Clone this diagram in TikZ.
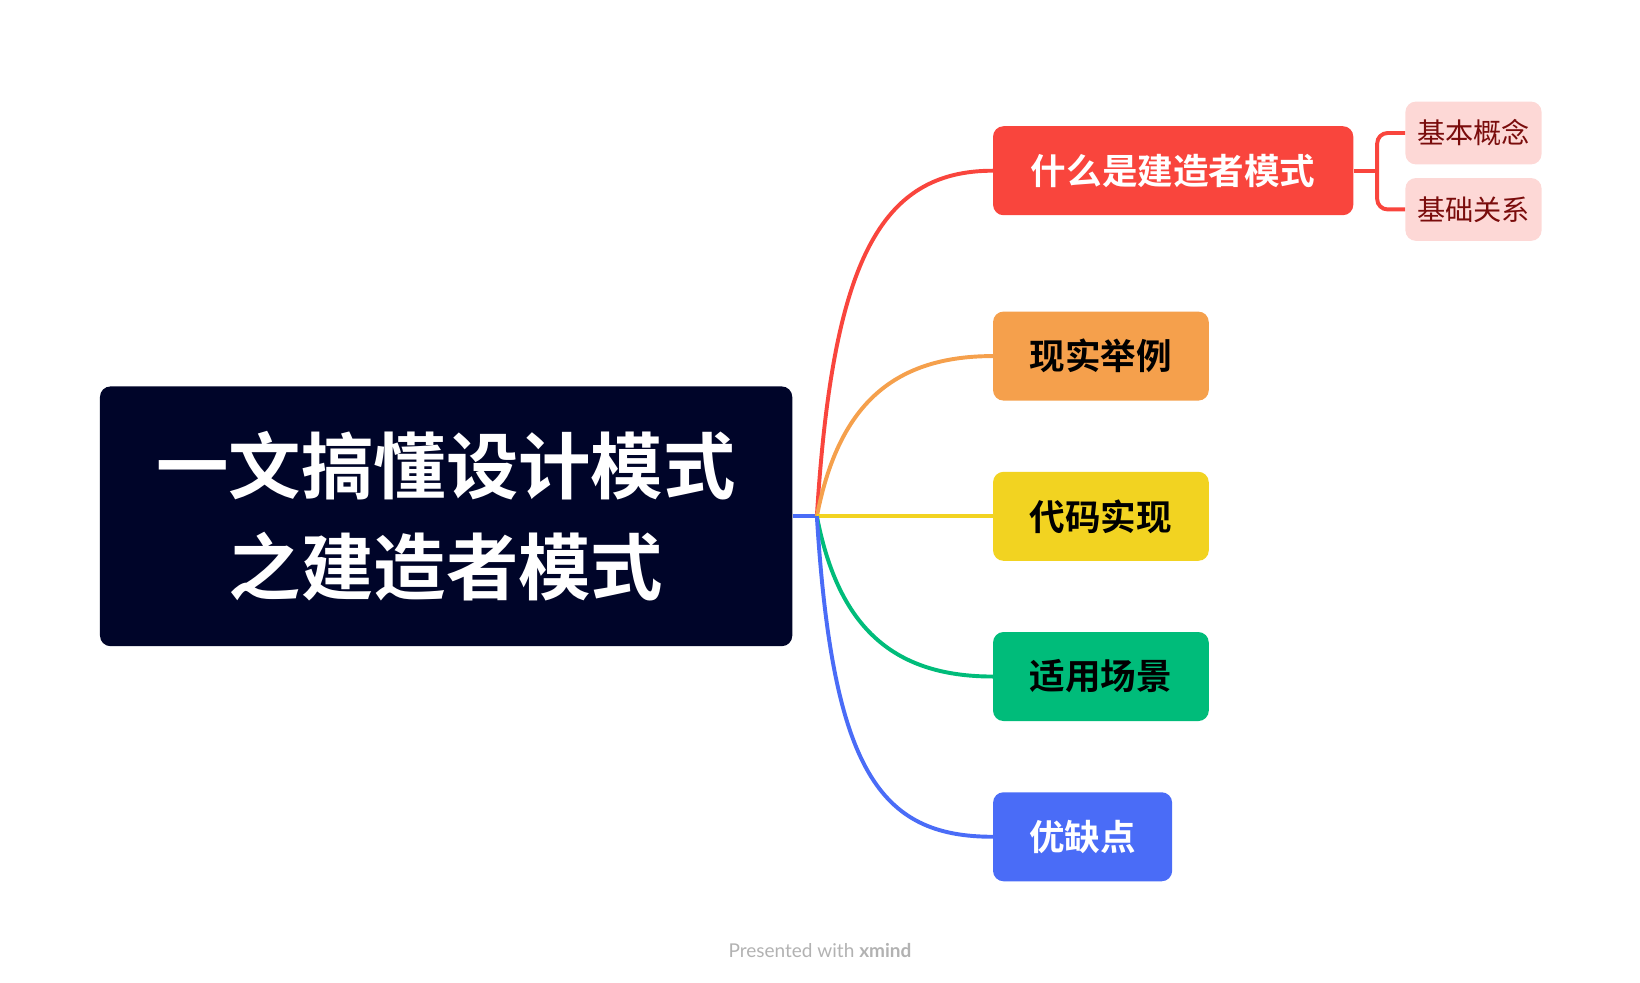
\documentclass[tikz,border=0pt]{standalone}
\usepackage{fontspec}
\setmainfont{Noto Sans CJK SC}
\newfontfamily\cjkb{Noto Sans CJK SC Bold}
\newfontfamily\lat{Lato}
\definecolor{rootc}{HTML}{000529}
\definecolor{redc}{HTML}{F9453D}
\definecolor{orac}{HTML}{F5A04C}
\definecolor{yelc}{HTML}{F2D321}
\definecolor{grnc}{HTML}{00BC7A}
\definecolor{bluc}{HTML}{4A6CF7}
\definecolor{subc}{HTML}{FDD8D6}
\definecolor{subt}{HTML}{7A0C0C}
\begin{document}
\begin{tikzpicture}[x=0.03cm,y=-0.03cm,
  br/.style={rounded corners=0.3cm,minimum height=2.55cm,inner sep=0pt,font=\cjkb\fontsize{29}{32}\selectfont,anchor=west},
  sb/.style={rounded corners=0.3cm,fill=subc,text=subt,minimum width=3.9cm,minimum height=1.8cm,inner sep=0pt,font=\fontsize{23}{26}\selectfont},
  ln/.style={line width=3.2pt}]
\useasboundingbox (0,0) rectangle (1566,938);
\node[fill=rootc,text=white,rounded corners=0.3cm,minimum width=19.83cm,minimum height=7.44cm,align=center,font=\cjkb\fontsize{59}{82}\selectfont] (root) at (426,493) {一文搞懂设计模式\\之建造者模式};
\node[br,fill=redc,text=white,minimum width=10.32cm] (a) at (948,163) {什么是建造者模式};
\node[br,fill=orac,text=black,minimum width=6.18cm] (b) at (948,340) {现实举例};
\node[br,fill=yelc,text=black,minimum width=6.18cm] (c) at (948,493) {代码实现};
\node[br,fill=grnc,text=black,minimum width=6.18cm] (d) at (948,646) {适用场景};
\node[br,fill=bluc,text=white,minimum width=5.13cm] (e) at (948,799) {优缺点};
\node[sb] (a1) at (1407,127) {基本概念};
\node[sb] (a2) at (1407,200) {基础关系};
\coordinate (o) at (780,493);
\draw[ln,bluc] (root.east) -- (o);
\draw[ln,redc] (o) .. controls (795,250) and (840,163) .. (a.west);
\draw[ln,orac] (o) .. controls (800,390) and (850,340) .. (b.west);
\draw[ln,yelc] (o) -- (c.west);
\draw[ln,grnc] (o) .. controls (800,596) and (850,646) .. (d.west);
\draw[ln,bluc] (o) .. controls (795,736) and (840,799) .. (e.west);
\coordinate (j) at (1315,163);
\draw[ln,redc] (a.east) -- (j);
\draw[ln,redc,rounded corners=0.3cm] (a1.west) -| (j) |- (a2.west);
\node[text=black!30,font=\lat\fontsize{15.5}{18}\selectfont] (w) at (783,908) {Presented with \textbf{xmind}};
\end{tikzpicture}
\end{document}
